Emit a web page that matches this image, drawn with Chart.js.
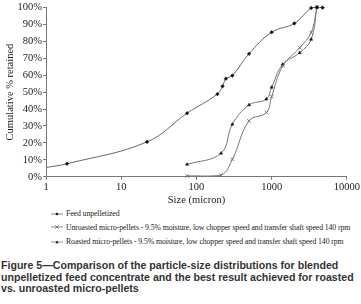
<!DOCTYPE html>
<html lang="en">

<head>
  <meta charset="UTF-8">
  <title>Figure 5</title>
  <script src="https://cdn.jsdelivr.net/npm/chart.js"></script>
  <style>
    body { margin: 0; background: #fff; width: 361px; height: 304px; overflow: hidden; }
    #grafico { position: relative; width: 361px; height: 207px; }
    #legenda { margin-left: 51px; font-family: "Liberation Serif", serif; font-size: 7.8px; color: #222; letter-spacing: -0.1px; }
    #legenda div { height: 14.5px; display: flex; align-items: center; white-space: nowrap; }
    #legenda svg { margin-right: 3px; }
    #legenda div:first-child { height: 13px; }
    #legenda-fim { margin: 11px 0 0 1px; font-family: "Liberation Sans", Arial, sans-serif; font-weight: bold; font-size: 10.6px; line-height: 11.6px; color: #333; }
  </style>
</head>

<body>
  <div id="grafico">
    <canvas id="myChartCanvas"></canvas>
  </div>
  <div id="legenda"></div>
  <div id="legenda-fim">Figure 5—Comparison of the particle-size distributions for blended unpelletized feed concentrate and the best result achieved for roasted vs. unroasted micro-pellets</div>
</body>

</html>

<script>
  // dados (tamanho em micron, % acumulada retida)
  var tamanhoFeed = [1, 1.9, 22, 75, 190, 222, 246, 300, 500, 1000, 2000, 3350, 4000, 4750];
  var retidoFeed = [5.5, 7.7, 20.6, 37.5, 48.8, 53.4, 57.9, 59.7, 72.6, 85.3, 90.5, 99.6, 100, 99.8];

  var tamanhoUnroasted = [75, 212, 300, 500, 850, 1000, 1400, 2360, 3350, 4000];
  var retidoUnroasted = [0.5, 1, 10.3, 33, 37.9, 47.4, 65.3, 76.2, 85.1, 100];

  var tamanhoRoasted = [75, 212, 300, 500, 850, 1000, 1400, 2360, 3350, 4000];
  var retidoRoasted = [7.3, 13.9, 31, 42.4, 45.8, 52.8, 66.3, 73.2, 81.1, 100];

  var nomes = [
    'Feed unpelletized',
    'Unroasted micro-pellets - 9.5% moisture, low chopper speed and transfer shaft speed 140 rpm',
    'Roasted micro-pellets - 9.5% moisture, low chopper speed and transfer shaft speed 140 rpm'
  ];

  var ticksY = [0, 10, 20, 30, 40, 50, 60, 70, 80, 90, 100];
  var ticksX = [1, 10, 100, 1000, 10000];

  function pares(xs, ys) {
    var lista = [];
    for (var i = 0; i < xs.length; i++) {
      lista.push({ x: xs[i], y: ys[i] });
    }
    return lista;
  }

  var serif = "'Liberation Serif', 'Times New Roman', serif";

  // primeiro ponto do feed fica sem marcador (linha vem da borda)
  var raioFeed = tamanhoFeed.map(function (t, i) { return i == 0 ? 0 : 1.8; });

  var dados = {
    datasets: [
      {
        label: nomes[0],
        data: pares(tamanhoFeed, retidoFeed),
        borderColor: '#666',
        borderWidth: 1,
        pointStyle: 'rectRot',
        pointRadius: raioFeed,
        pointBackgroundColor: '#111',
        pointBorderColor: '#111',
        pointBorderWidth: 0.5,
        tension: 0.4,
        clip: 6
      },
      {
        label: nomes[1],
        data: pares(tamanhoUnroasted, retidoUnroasted),
        borderColor: '#777',
        borderWidth: 1,
        pointStyle: 'crossRot',
        pointRadius: 2.6,
        pointBorderColor: '#666',
        pointBorderWidth: 0.8,
        tension: 0.4,
        clip: 6
      },
      {
        label: nomes[2],
        data: pares(tamanhoRoasted, retidoRoasted),
        borderColor: '#777',
        borderWidth: 1,
        pointStyle: 'triangle',
        pointRadius: 1.8,
        pointBackgroundColor: '#111',
        pointBorderColor: '#111',
        pointBorderWidth: 0.5,
        tension: 0.4,
        clip: 6
      }
    ]
  };

  var config = {
    type: 'line',
    data: dados,
    options: {
      responsive: true,
      maintainAspectRatio: false,
      animation: false,
      layout: { padding: { top: 2, right: 2, left: 4, bottom: 0 } },
      plugins: {
        legend: { display: false },
        tooltip: { enabled: false }
      },
      scales: {
        x: {
          type: 'logarithmic',
          min: 1,
          max: 10000,
          afterBuildTicks: function (escala) {
            escala.ticks = ticksX.map(function (v) { return { value: v }; });
          },
          ticks: {
            color: '#222',
            font: { family: serif, size: 10.5 },
            padding: 1,
            maxRotation: 0,
            callback: function (v) { return String(v); }
          },
          grid: { display: true, drawOnChartArea: false, tickLength: 3, color: '#777' },
          border: { color: '#777', width: 1 },
          title: {
            display: true,
            text: 'Size (micron)',
            color: '#222',
            font: { family: serif, size: 10.5 },
            padding: { top: 0, bottom: 0 }
          }
        },
        y: {
          min: 0,
          max: 100,
          afterBuildTicks: function (escala) {
            escala.ticks = ticksY.map(function (v) { return { value: v }; });
          },
          ticks: {
            color: '#222',
            font: { family: serif, size: 10.5 },
            padding: 1,
            callback: function (v) { return v + '%'; }
          },
          grid: { display: true, drawOnChartArea: false, tickLength: 3, color: '#777' },
          border: { color: '#777', width: 1 },
          title: {
            display: true,
            text: 'Cumulative % retained',
            color: '#222',
            font: { family: serif, size: 10.5 },
            padding: { top: 0, bottom: 0 }
          }
        }
      }
    }
  };

  var myChart = new Chart(document.getElementById('myChartCanvas'), config);

  // legenda em html, uma linha por série
  function desenharMarcador(ds) {
    var svg = '<svg width="12" height="8" viewBox="0 0 12 8">' +
      '<line x1="0" y1="4" x2="12" y2="4" stroke="' + ds.borderColor + '" stroke-width="0.8"/>';
    if (ds.pointStyle == 'rectRot') {
      svg += '<polygon points="6,2.4 7.6,4 6,5.6 4.4,4" fill="#111"/>';
    } else if (ds.pointStyle == 'crossRot') {
      svg += '<path d="M4.2,2.2 L7.8,5.8 M7.8,2.2 L4.2,5.8" stroke="#666" stroke-width="0.8"/>';
    } else {
      svg += '<polygon points="6,2.4 7.6,5.2 4.4,5.2" fill="#111"/>';
    }
    return svg + '</svg>';
  }

  var legenda = document.getElementById('legenda');
  for (var i = 0; i < dados.datasets.length; i++) {
    var ds = dados.datasets[i];
    legenda.innerHTML += '<div>' + desenharMarcador(ds) + '<span>' + ds.label + '</span></div>';
  }
</script>
